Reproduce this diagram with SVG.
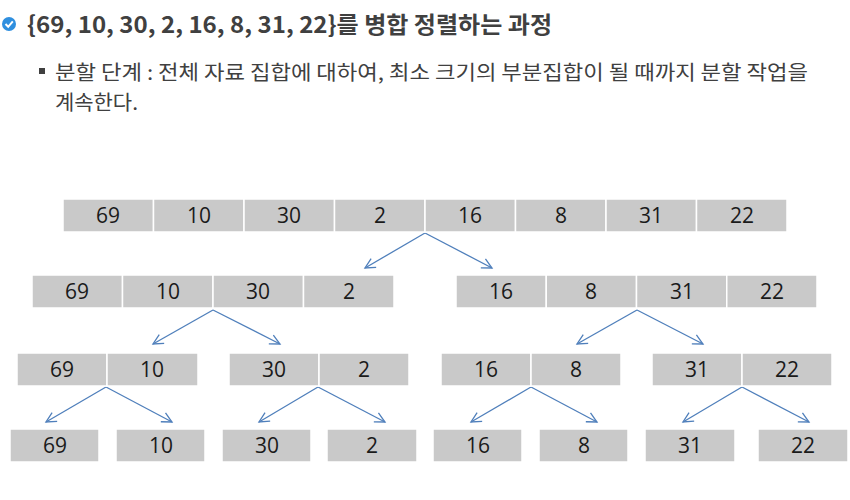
<svg xmlns="http://www.w3.org/2000/svg" width="850" height="500" viewBox="0 0 850 500">
<defs>
<style>
.c{fill:#c9c9c9;stroke:#ffffff;stroke-width:1.5}
.n{font-family:"Open Sans","Noto Sans",sans-serif;font-size:21px;fill:#1a1a1a;text-anchor:middle}
.e{fill:none;stroke:#4f7fbb;stroke-width:1.3;marker-end:url(#ah)}
.t{font-family:"Noto Sans CJK KR","Noto Sans",sans-serif;fill:#404040}
</style>
<marker id="ah" markerUnits="userSpaceOnUse" markerWidth="14" markerHeight="14" refX="11" refY="6" orient="auto">
<path d="M1,1 L11,6 L1,11" fill="none" stroke="#4f7fbb" stroke-width="1.3"/>
</marker>
</defs>
<rect width="850" height="500" fill="#ffffff"/>
<g id="title">
<circle cx="9" cy="24" r="7" fill="#2f8fdf"/>
<path d="M5.5,24 L8.2,26.8 L12.8,21.3" fill="none" stroke="#ffffff" stroke-width="2"/>
<text class="t" x="27" y="33" font-size="23" font-weight="bold" fill="#333333" textLength="525" lengthAdjust="spacingAndGlyphs">{69, 10, 30, 2, 16, 8, 31, 22}를 병합 정렬하는 과정</text>
</g>
<g id="desc">
<rect x="39" y="68" width="6" height="6" fill="#404040"/>
<text class="t" x="55" y="80" font-size="20" textLength="753" lengthAdjust="spacingAndGlyphs">분할 단계 : 전체 자료 집합에 대하여, 최소 크기의 부분집합이 될 때까지 분할 작업을</text>
<text class="t" x="55" y="110" font-size="20" textLength="83" lengthAdjust="spacingAndGlyphs">계속한다.</text>
</g>
<g id="connectors">
<path class="e" d="M425,233 L365,268"/>
<path class="e" d="M425,233 L492,268"/>
<path class="e" d="M213,310 L153,344"/>
<path class="e" d="M213,310 L280,344"/>
<path class="e" d="M637,310 L577,344"/>
<path class="e" d="M637,310 L703,344"/>
<path class="e" d="M106,387 L46,422"/>
<path class="e" d="M106,387 L172,422"/>
<path class="e" d="M318,387 L259,422"/>
<path class="e" d="M318,387 L385,422"/>
<path class="e" d="M531,387 L471,422"/>
<path class="e" d="M531,387 L597,422"/>
<path class="e" d="M742,387 L683,422"/>
<path class="e" d="M742,387 L809,422"/>
</g>
<g id="row1">
<rect class="c" x="63" y="199" width="90.5" height="33"/>
<rect class="c" x="153.5" y="199" width="90.5" height="33"/>
<rect class="c" x="244" y="199" width="90.5" height="33"/>
<rect class="c" x="334.5" y="199" width="90.5" height="33"/>
<rect class="c" x="425" y="199" width="90.5" height="33"/>
<rect class="c" x="515.5" y="199" width="90.5" height="33"/>
<rect class="c" x="606" y="199" width="90.5" height="33"/>
<rect class="c" x="696.5" y="199" width="90.5" height="33"/>
<text class="n" x="108" y="223">69</text>
<text class="n" x="199" y="223">10</text>
<text class="n" x="289" y="223">30</text>
<text class="n" x="380" y="223">2</text>
<text class="n" x="470" y="223">16</text>
<text class="n" x="561" y="223">8</text>
<text class="n" x="651" y="223">31</text>
<text class="n" x="742" y="223">22</text>
</g>
<g id="row2-left">
<rect class="c" x="32" y="275" width="90.5" height="33"/>
<rect class="c" x="122.5" y="275" width="90.5" height="33"/>
<rect class="c" x="213" y="275" width="90.5" height="33"/>
<rect class="c" x="303.5" y="275" width="90.5" height="33"/>
<text class="n" x="77" y="299">69</text>
<text class="n" x="168" y="299">10</text>
<text class="n" x="258" y="299">30</text>
<text class="n" x="349" y="299">2</text>
</g>
<g id="row2-right">
<rect class="c" x="456" y="275" width="90.25" height="33"/>
<rect class="c" x="546.25" y="275" width="90.25" height="33"/>
<rect class="c" x="636.5" y="275" width="90.25" height="33"/>
<rect class="c" x="726.75" y="275" width="90.25" height="33"/>
<text class="n" x="501" y="299">16</text>
<text class="n" x="591" y="299">8</text>
<text class="n" x="682" y="299">31</text>
<text class="n" x="772" y="299">22</text>
</g>
<g id="row3-a">
<rect class="c" x="17" y="353" width="90" height="33"/>
<rect class="c" x="107" y="353" width="91" height="33"/>
<text class="n" x="62" y="377">69</text>
<text class="n" x="152" y="377">10</text>
</g>
<g id="row3-b">
<rect class="c" x="229" y="353" width="90" height="33"/>
<rect class="c" x="319" y="353" width="90" height="33"/>
<text class="n" x="274" y="377">30</text>
<text class="n" x="364" y="377">2</text>
</g>
<g id="row3-c">
<rect class="c" x="441" y="353" width="90" height="33"/>
<rect class="c" x="531" y="353" width="90" height="33"/>
<text class="n" x="486" y="377">16</text>
<text class="n" x="576" y="377">8</text>
</g>
<g id="row3-d">
<rect class="c" x="652" y="353" width="90" height="33"/>
<rect class="c" x="742" y="353" width="90" height="33"/>
<text class="n" x="697" y="377">31</text>
<text class="n" x="787" y="377">22</text>
</g>
<g id="leaf1"><rect class="c" x="10" y="429" width="89" height="33"/><text class="n" x="55" y="453">69</text></g>
<g id="leaf2"><rect class="c" x="116" y="429" width="89" height="33"/><text class="n" x="161" y="453">10</text></g>
<g id="leaf3"><rect class="c" x="222" y="429" width="89" height="33"/><text class="n" x="267" y="453">30</text></g>
<g id="leaf4"><rect class="c" x="327" y="429" width="90" height="33"/><text class="n" x="372" y="453">2</text></g>
<g id="leaf5"><rect class="c" x="433" y="429" width="89" height="33"/><text class="n" x="478" y="453">16</text></g>
<g id="leaf6"><rect class="c" x="539" y="429" width="89" height="33"/><text class="n" x="584" y="453">8</text></g>
<g id="leaf7"><rect class="c" x="645" y="429" width="90" height="33"/><text class="n" x="690" y="453">31</text></g>
<g id="leaf8"><rect class="c" x="758" y="429" width="90" height="33"/><text class="n" x="803" y="453">22</text></g>
</svg>
